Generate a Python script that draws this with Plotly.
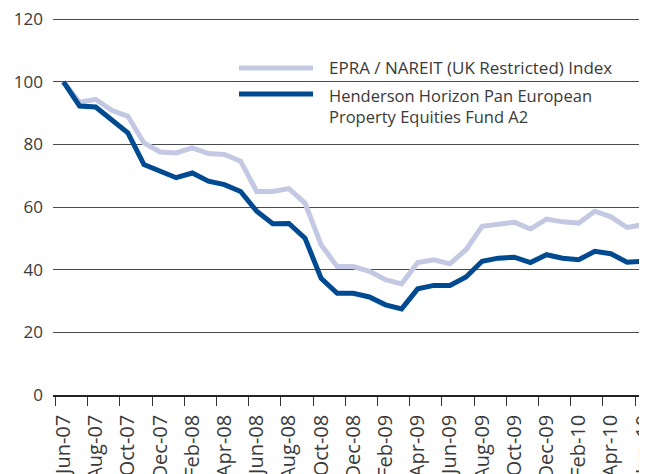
import plotly.graph_objects as go

months = ["Jun-07", "Jul-07", "Aug-07", "Sep-07", "Oct-07", "Nov-07", "Dec-07", "Jan-08",
          "Feb-08", "Mar-08", "Apr-08", "May-08", "Jun-08", "Jul-08", "Aug-08", "Sep-08",
          "Oct-08", "Nov-08", "Dec-08", "Jan-09", "Feb-09", "Mar-09", "Apr-09", "May-09",
          "Jun-09", "Jul-09", "Aug-09", "Sep-09", "Oct-09", "Nov-09", "Dec-09", "Jan-10",
          "Feb-10", "Mar-10", "Apr-10", "May-10", "Jun-10"]

epra_index = [100, 93.5, 94.4, 90.9, 89.0, 80.5, 77.6, 77.3, 78.9, 77.1, 76.8, 74.7,
              65.0, 65.0, 65.9, 61.3, 48.0, 41.0, 41.0, 39.5, 36.8, 35.5, 42.3, 43.2,
              41.9, 46.4, 53.9, 54.6, 55.2, 53.0, 56.2, 55.3, 54.9, 58.7, 56.9, 53.5, 54.4]

henderson_fund = [100, 92.3, 92.0, 87.8, 83.7, 73.6, 71.5, 69.4, 70.9, 68.3, 67.2, 65.0,
                  58.7, 54.7, 54.8, 50.1, 37.3, 32.5, 32.5, 31.3, 28.8, 27.5, 33.9, 35.0,
                  35.0, 37.7, 42.7, 43.7, 44.0, 42.3, 44.8, 43.7, 43.2, 45.9, 45.1, 42.4, 42.7]

series_names = ["EPRA / NAREIT (UK Restricted) Index",
                "Henderson Horizon Pan European<br>Property Equities Fund A2"]
y_ticks = [0, 20, 40, 60, 80, 100, 120]

LIGHT = "#c4c9e3"
DARK = "#004a92"
TEXT = "#3a3a3a"
FONT = "Open Sans"

OFF = 8  # page body margin
W, H = 647 - OFF, 474 - OFF
ML, MR, MT, MB = 53 - OFF, 0, 18 - OFF, 474 - 395
PW, PH = W - ML - MR, H - MT - MB

def px(x):  # page pixel -> paper
    return (x - OFF - ML) / PW

def py(y):
    return 1 - (y - OFF - MT) / PH

fig = go.Figure()
fig.add_trace(go.Scatter(x=months, y=epra_index, mode="lines", name=series_names[0],
                         line=dict(color=LIGHT, width=5), showlegend=False))
fig.add_trace(go.Scatter(x=months, y=henderson_fund, mode="lines", name=series_names[1],
                         line=dict(color=DARK, width=5), showlegend=False))

# manual legend
for yy, col in [(68, LIGHT), (94, DARK)]:
    fig.add_shape(type="line", xref="paper", yref="paper",
                  x0=px(239), x1=px(313), y0=py(yy), y1=py(yy),
                  line=dict(color=col, width=5))
fig.add_annotation(xref="paper", yref="paper", x=px(327), y=py(68), text=series_names[0],
                   showarrow=False, xanchor="left", yanchor="middle", align="left",
                   font=dict(family=FONT, size=17, color=TEXT))
fig.add_annotation(xref="paper", yref="paper", x=px(327), y=py(106), text=series_names[1],
                   showarrow=False, xanchor="left", yanchor="middle", align="left",
                   font=dict(family=FONT, size=16.5, color=TEXT))

fig.update_layout(
    width=W, height=H,
    margin=dict(l=ML, r=MR, t=MT, b=MB, pad=0, autoexpand=False),
    paper_bgcolor="white", plot_bgcolor="white",
    font=dict(family=FONT, size=17, color=TEXT),
    showlegend=False,
)
fig.update_xaxes(
    type="category", categoryorder="array", categoryarray=months,
    range=[-0.65, 36.24], tickmode="linear", tick0=0, dtick=2,
    tickson="boundaries", ticks="outside", ticklen=9, tickwidth=1.3, tickcolor="#333333",
    tickangle=-90, showgrid=False, showline=True, linecolor="#222222", linewidth=1.5,
    tickfont=dict(family=FONT, size=20, color=TEXT), ticklabelstandoff=10,
    ticklabeloverflow="allow", zeroline=False, automargin=False,
)
fig.update_yaxes(
    range=[0, 120.4], tickmode="array", tickvals=y_ticks, ticks="",
    showgrid=True, gridcolor="#4a4a4a", gridwidth=1, zeroline=False, showline=False,
    tickfont=dict(family=FONT, size=17, color=TEXT), ticklabelstandoff=9,
    ticklabeloverflow="allow", automargin=False,
)

fig.write_html("out.html")
